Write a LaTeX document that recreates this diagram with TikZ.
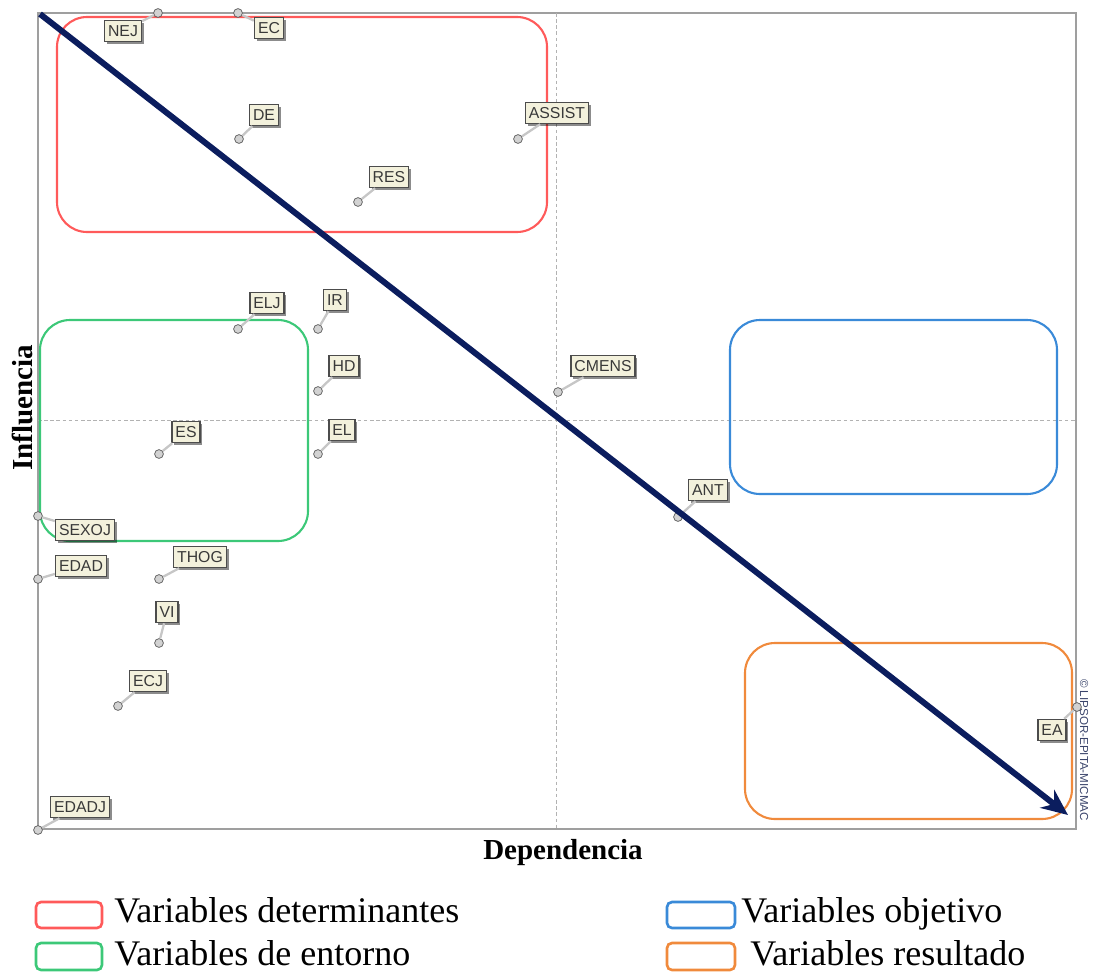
\documentclass[tikz,border=0pt]{standalone}
\usepackage{fontspec}
\setmainfont{Liberation Serif}
\setsansfont{Liberation Sans}
\usetikzlibrary{arrows.meta,shadows}
\definecolor{detcol}{HTML}{FF5A5A}
\definecolor{entcol}{HTML}{3CC878}
\definecolor{objcol}{HTML}{3A8AD8}
\definecolor{rescol}{HTML}{F08A3C}
\definecolor{navy}{HTML}{0B1D5E}
\definecolor{cream}{HTML}{F3F1DC}
\begin{document}
\begin{tikzpicture}[x=0.02cm, y=-0.02cm,
  var/.style={shape=rectangle, draw=gray!60!black, fill=cream, thick, text=gray!45!black,
    font=\sffamily\fontsize{9}{9}\selectfont, inner sep=2pt, text height=7pt, text depth=1pt,
    drop shadow={shadow xshift=1.3pt, shadow yshift=-1.3pt, fill=black, opacity=0.45}},
  pt/.style={shape=circle, draw=gray!70!black, fill=gray!35, inner sep=0pt, minimum size=5pt},
  lead/.style={-, draw=gray!45, line width=1.3pt},
  region/.style={line width=1.2pt, rounded corners=0.6cm},
  key/.style={line width=1.5pt, rounded corners=0.1cm},
  keytext/.style={anchor=base west, inner sep=0pt, font=\fontsize{20.5}{22}\selectfont}]
\useasboundingbox (0,0) rectangle (1095,974);
% frame and axes
\draw[gray!75, line width=1.5pt] (38,13) rectangle (1076,829);
\draw[gray!60, dashed, dash pattern=on 2pt off 1.5pt] (38,420) -- (1076,420);
\draw[gray!60, dashed, dash pattern=on 2pt off 1.5pt] (556,13) -- (556,829);
\node[rotate=90, font=\bfseries\fontsize{16.5}{18}\selectfont] (yl) at (22,408) {Influencia};
\node[font=\bfseries\fontsize{16.5}{18}\selectfont] (xl) at (563,853) {Dependencia};
\node[rotate=-90, font=\sffamily\fontsize{6.6}{7}\selectfont, text=gray!40!navy, inner sep=0pt] (copy) at (1084,750) {© LIPSOR-EPITA-MICMAC};
% regions
\draw[region, draw=detcol] (57,17) rectangle (547,232);
\draw[region, draw=entcol] (40,320) rectangle (308,541);
\draw[region, draw=objcol] (730,320) rectangle (1057,494);
\draw[region, draw=rescol] (745,643) rectangle (1072,819);
% variables
\node[pt] (pNEJ) at (158,13) {};
\node[pt] (pEC) at (238,13) {};
\node[pt] (pDE) at (239,139) {};
\node[pt] (pASSIST) at (518,139) {};
\node[pt] (pRES) at (358,202) {};
\node[pt] (pELJ) at (238,329) {};
\node[pt] (pIR) at (318,329) {};
\node[pt] (pHD) at (318,391) {};
\node[pt] (pCMENS) at (558,392) {};
\node[pt] (pEL) at (318,454) {};
\node[pt] (pES) at (159,454) {};
\node[pt] (pANT) at (678,517) {};
\node[pt] (pSEXOJ) at (38,516) {};
\node[pt] (pEDAD) at (38,579) {};
\node[pt] (pTHOG) at (159,579) {};
\node[pt] (pVI) at (159,643) {};
\node[pt] (pECJ) at (118,706) {};
\node[pt] (pEA) at (1077,707) {};
\node[pt] (pEDADJ) at (38,830) {};
\node[var] (NEJ) at (123,31) {NEJ};
\node[var] (EC) at (269,28) {EC};
\node[var] (DE) at (264,115) {DE};
\node[var] (ASSIST) at (557,113) {ASSIST};
\node[var] (RES) at (389,177) {RES};
\node[var] (ELJ) at (267,303) {ELJ};
\node[var] (IR) at (335,300) {IR};
\node[var] (HD) at (344,366) {HD};
\node[var] (CMENS) at (603,366) {CMENS};
\node[var] (EL) at (342,430) {EL};
\node[var] (ES) at (186,432) {ES};
\node[var] (ANT) at (708,490) {ANT};
\node[var] (SEXOJ) at (85,530) {SEXOJ};
\node[var] (EDAD) at (81,566) {EDAD};
\node[var] (THOG) at (200,557) {THOG};
\node[var] (VI) at (167,612) {VI};
\node[var] (ECJ) at (148,681) {ECJ};
\node[var] (EA) at (1052,730) {EA};
\node[var] (EDADJ) at (80,807) {EDADJ};
\path [lead] (pNEJ) edge (NEJ);
\path [lead] (pEC) edge (EC);
\path [lead] (pDE) edge (DE);
\path [lead] (pASSIST) edge (ASSIST);
\path [lead] (pRES) edge (RES);
\path [lead] (pELJ) edge (ELJ);
\path [lead] (pIR) edge (IR);
\path [lead] (pHD) edge (HD);
\path [lead] (pCMENS) edge (CMENS);
\path [lead] (pEL) edge (EL);
\path [lead] (pES) edge (ES);
\path [lead] (pANT) edge (ANT);
\path [lead] (pSEXOJ) edge (SEXOJ);
\path [lead] (pEDAD) edge (EDAD);
\path [lead] (pTHOG) edge (THOG);
\path [lead] (pVI) edge (VI);
\path [lead] (pECJ) edge (ECJ);
\path [lead] (pEA) edge (EA);
\path [lead] (pEDADJ) edge (EDADJ);
% trend arrow
\coordinate (top) at (40,14);
\coordinate (bottom) at (1068,815);
\draw [-{Stealth[length=15pt, width=13pt]}, line width=3.4pt, navy] (top) -- (bottom);
% legend
\draw[key, draw=detcol] (36,902) rectangle (102,928);
\draw[key, draw=entcol] (36,943) rectangle (102,970);
\draw[key, draw=objcol] (667,902) rectangle (735,928);
\draw[key, draw=rescol] (667,943) rectangle (735,970);
\node[keytext] (kdet) at (114,922) {Variables determinantes};
\node[keytext] (kent) at (114,965) {Variables de entorno};
\node[keytext] (kobj) at (741,922) {Variables objetivo};
\node[keytext] (kres) at (750,965) {Variables resultado};
\end{tikzpicture}
\end{document}
